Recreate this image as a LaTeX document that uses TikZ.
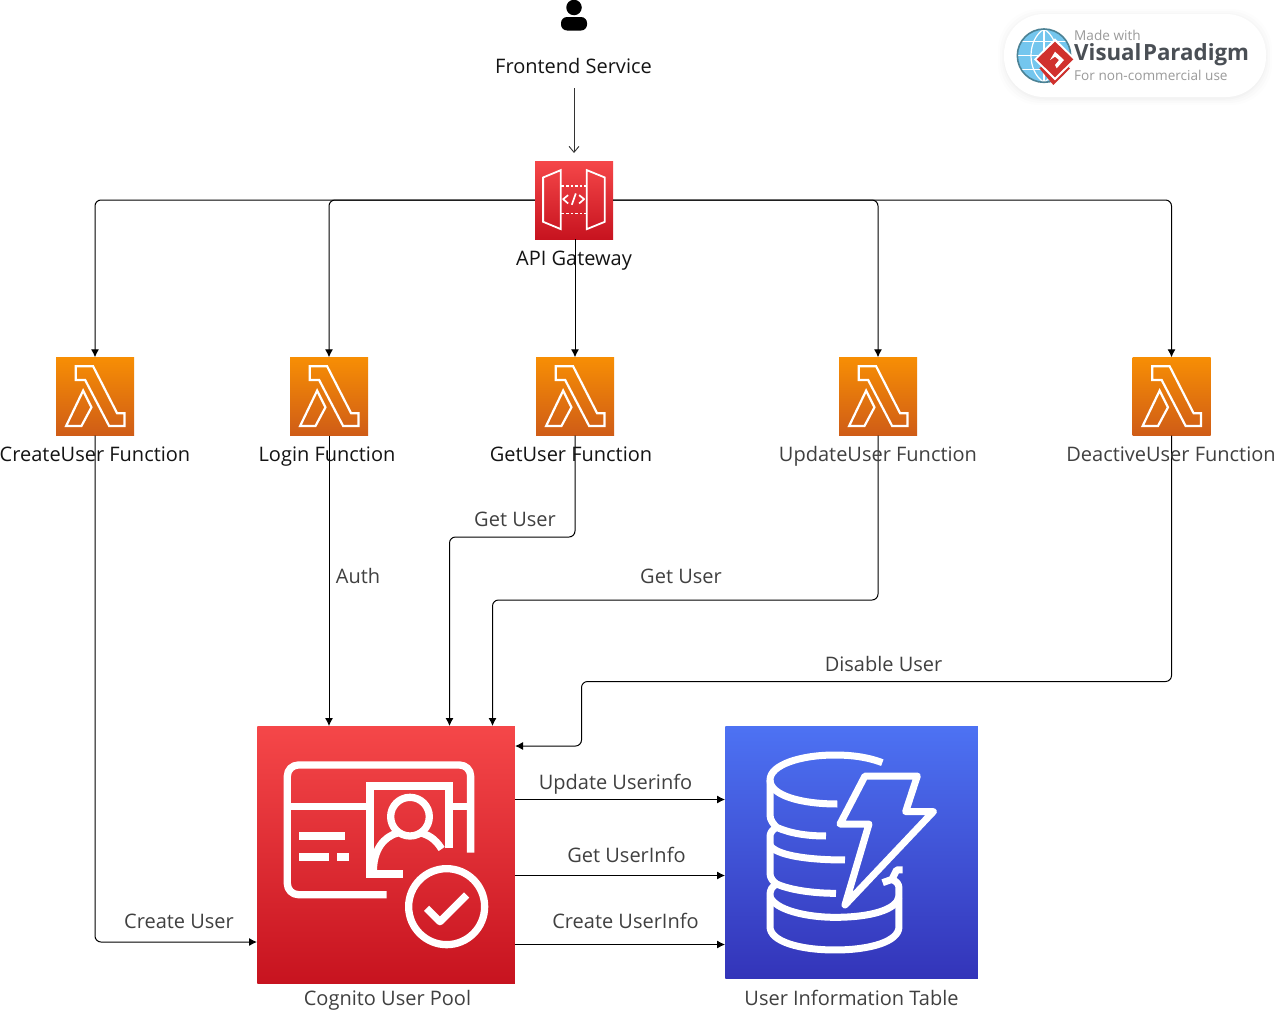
\documentclass[tikz,border=0pt]{standalone}
\usepackage{fontspec}
\setmainfont{Open Sans}
\usetikzlibrary{arrows.meta,calc}
\definecolor{awsredT}{HTML}{F54749}
\definecolor{awsredB}{HTML}{C7131F}
\definecolor{awsorT}{HTML}{F78E04}
\definecolor{awsorB}{HTML}{CF5C17}
\definecolor{awsblT}{HTML}{4D72F3}
\definecolor{awsblB}{HTML}{3334B9}
\definecolor{vpgrey}{HTML}{9A9A9A}
\definecolor{vpdark}{HTML}{4A4F55}
\definecolor{vpred}{HTML}{D0312D}
\definecolor{vpblue}{HTML}{74C6EE}
\definecolor{vpring}{HTML}{4C8295}
\tikzset{
  x=1pt,y=-1pt,
  lambdabox/.style={rectangle,inner sep=0pt,minimum size=78,top color=awsorT,bottom color=awsorB,draw=none},
  gatebox/.style={rectangle,inner sep=0pt,minimum size=78,top color=awsredT,bottom color=awsredB,draw=none},
  poolbox/.style={rectangle,inner sep=0pt,minimum size=257.5,top color=awsredT,bottom color=awsredB,draw=none},
  tablebox/.style={rectangle,inner sep=0pt,minimum size=252.5,top color=awsblT,bottom color=awsblB,draw=none},
  lbl/.style={inner sep=0pt,text height=17pt,text depth=3pt,font=\fontsize{20}{24}\selectfont,text=black!92},
  elbl/.style={inner sep=0pt,text height=17pt,text depth=3pt,font=\fontsize{20}{24}\selectfont,text=black!75},
  conn/.style={draw=black,line width=1pt,rounded corners=6pt,-{Latex[length=8pt,width=8pt]}},
  glyph/.style={draw=white,line cap=butt,line join=round,x=0.3333pt,y=-0.3333pt},
  pics/lambdaglyph/.style={code={
    \draw[glyph,line width=2.2pt,line join=miter]
      (60,27)--(112,27)--(184,168)--(206,168)--(206,206)--(160,206)--(88,68)--(60,68)--cycle;
    \draw[glyph,line width=2.2pt,line join=miter]
      (82,100)--(107,150)--(77,206)--(31,206)--cycle;
  }},
  pics/gateglyph/.style={code={
    \draw[glyph,line width=1.8pt,line join=miter] (25,50)--(78,28)--(78,205)--(25,183)--cycle;
    \draw[glyph,line width=1.8pt,line join=miter] (156,28)--(210,50)--(210,183)--(156,205)--cycle;
    \draw[glyph,line width=1.6pt,dash pattern=on 2.6pt off 2pt] (80,75)--(156,75);
    \draw[glyph,line width=1.6pt,dash pattern=on 2.6pt off 2pt] (80,158)--(156,158);
    \draw[glyph,line width=1.7pt] (100,103)--(85,115)--(100,128);
    \draw[glyph,line width=1.7pt] (133,103)--(148,115)--(133,128);
    \draw[glyph,line width=1.7pt] (123,98)--(111,132);
  }}
}
\begin{document}
\begin{tikzpicture}
\useasboundingbox (0,0) rectangle (1279,1012);
\fill[white] (0,0) rectangle (1279,1012);

% boxes
\node[gatebox] (gw) at (574,200) {};
\node[lambdabox] (cu) at (95,396.5) {};
\node[lambdabox] (lg) at (329,396.5) {};
\node[lambdabox] (gu) at (575,396.5) {};
\node[lambdabox] (uu) at (878,396.5) {};
\node[lambdabox] (du) at (1171.5,396.5) {};
\node[poolbox] (pool) at (386,855) {};
\node[tablebox] (table) at (851.5,852.5) {};

% text that carries connectors
\node[lbl] (fs) at (573.5,66) {Frontend Service};
\coordinate (fsout) at (574,88);
\coordinate (gwin) at (574,153);

% connectors
\draw[draw=black!80,line width=0.9pt,-{Straight Barb[length=6pt,width=10pt,line width=0.9pt]}] (fsout) -- (gwin);
\draw[conn] (gw.west) -| (cu.north);
\draw[conn] (gw.west) -| (lg.north);
\draw[conn] (gu.north |- gw.south) -- (gu.north);
\draw[conn] (gw.east) -| (uu.north);
\draw[conn] (gw.east) -| (du.north);

\coordinate (pcu) at (257,942);
\coordinate (pgu) at (449.5,726);
\coordinate (puu) at (492.5,726);
\coordinate (pdu) at (515,746);
\draw[conn] (cu.south) |- (pcu);
\draw[conn] (lg.south) -- (lg.south |- pool.north);
\draw[conn] (gu.south) |- ($(pgu)+(0,-189)$) -- (pgu);
\draw[conn] (uu.south) |- ($(puu)+(0,-126)$) -- (puu);
\draw[conn] (du.south) |- (581.5,681.5) |- (pdu);

\coordinate (a1) at (515,799.5);
\coordinate (a2) at (515,875.5);
\coordinate (a3) at (515,944.5);
\draw[conn] (a1) -- (table.west |- a1);
\draw[conn] (a2) -- (table.west |- a2);
\draw[conn] (a3) -- (table.west |- a3);

% glyphs
\pic at (gw.north west) {gateglyph};
\pic at (cu.north west) {lambdaglyph};
\pic at (lg.north west) {lambdaglyph};
\pic at (gu.north west) {lambdaglyph};
\pic at (uu.north west) {lambdaglyph};
\pic at (du.north west) {lambdaglyph};

% Cognito glyph
\begin{scope}[shift={(250,720)}]
\draw[glyph,line width=7.3pt,rounded corners=11pt] (410,524)--(112,524)--(112,135)--(662,135)--(662,398);
\draw[glyph,line width=7.3pt] (112,260)--(350,260) (610,260)--(662,260);
\draw[glyph,line width=7.3pt,line join=miter] (597,385)--(597,198)--(360,198)--(360,462)--(460,462);
\draw[glyph,line width=7.3pt] (480,290) circle[radius=58];
\draw[glyph,line width=7.3pt] (575,387) .. controls (555,355) and (535,345) .. (510,338);
\draw[glyph,line width=7.3pt] (445,338) .. controls (400,350) and (370,390) .. (370,455);
\draw[glyph,line width=8pt] (148,347)--(285,347) (148,410)--(237,410) (262,410)--(298,410);
\draw[glyph,line width=7.3pt] (590,560) circle[radius=114];
\draw[glyph,line width=7.3pt] (530,565)--(570,605)--(650,525);
\end{scope}

% DynamoDB glyph
\begin{scope}[shift={(720,720)}]
\draw[glyph,line width=7pt] (487,128) .. controls (440,110) and (390,105) .. (345,105) .. controls (240,105) and (150,135) .. (150,180) .. controls (150,225) and (240,252) .. (352,252);
\draw[glyph,line width=7pt] (150,180)--(150,285) .. controls (150,300) and (160,312) .. (170,322) .. controls (210,340) and (260,348) .. (318,348);
\draw[glyph,line width=7pt] (170,322) .. controls (155,330) and (150,340) .. (150,350) -- (150,460) .. controls (150,475) and (160,485) .. (170,492) .. controls (210,510) and (280,520) .. (348,520);
\draw[glyph,line width=7pt] (150,375) .. controls (165,405) and (260,420) .. (375,420);
\draw[glyph,line width=7pt] (170,492) .. controls (155,500) and (150,510) .. (150,525) -- (150,620) .. controls (150,665) and (240,690) .. (345,690) .. controls (450,690) and (537,665) .. (537,620) -- (537,505) .. controls (537,492) and (530,484) .. (515,478);
\draw[glyph,line width=7pt] (150,530) .. controls (165,570) and (260,592) .. (345,592) .. controls (450,592) and (530,570) .. (537,530);
\draw[glyph,line width=7pt] (548,450)--(530,450)--(516,478)--(488,488);
\fill[white] (198,277) circle[radius=16] (198,447) circle[radius=16] (198,617) circle[radius=16];
\draw[glyph,line width=7pt] (435,168)--(592,168)--(557,275)--(640,275)--(375,555)--(447,312)--(360,312)--cycle;
\end{scope}

% person
\node[circle,fill=black,inner sep=0pt,minimum size=15.5] (phead) at (574,7.5) {};
\fill[black,rounded corners=6pt] (561,30.5) -- (561,17) -- (587,17) -- (587,30.5) -- cycle;

% labels
\node[lbl] (gwl) at (574,258) {API Gateway};
\node[lbl] (cul) at (95,454) {CreateUser Function};
\node[lbl] (lgl) at (327,454) {Login Function};
\node[lbl] (gul) at (571,454) {GetUser Function};
\node[elbl] (uul) at (878,454) {UpdateUser Function};
\node[elbl] (dul) at (1171,454) {DeactiveUser Function};
\node[elbl] (e1) at (515,519) {Get User};
\node[elbl] (e2) at (358,576) {Auth};
\node[elbl] (e3) at (681,576) {Get User};
\node[elbl] (e4) at (883.5,664) {Disable User};
\node[elbl] (e5) at (615.5,782) {Update Userinfo};
\node[elbl] (e6) at (626.5,855) {Get UserInfo};
\node[elbl] (e7) at (625.5,921) {Create UserInfo};
\node[elbl] (e8) at (179,921) {Create User};
\node[elbl] (pooll) at (387.5,998) {Cognito User Pool};
\node[elbl] (tablel) at (851.5,998) {User Information Table};

% watermark
\foreach \g/\o in {7/0.008,5/0.01,3/0.012,1.5/0.015}{
  \fill[black,opacity=\o,rounded corners=41pt] (1005-\g,15-\g+1) rectangle (1265+\g,97+\g+1);
}
\fill[white,rounded corners=40pt] (1004,14) rectangle (1266,97);
\begin{scope}[shift={(990,0)}]
\begin{scope}[x=0.3333pt,y=-0.3333pt]
\fill[vpblue] (162,167) circle[radius=80];
\draw[white,line width=1.2pt] (162,87)--(162,247) (82,167)--(242,167) (95,125)--(229,125) (95,209)--(229,209);
\draw[white,line width=1.2pt] (162,87) .. controls (110,120) and (110,214) .. (162,247);
\draw[white,line width=1.2pt] (162,87) .. controls (214,120) and (214,214) .. (162,247);
\draw[vpring,line width=1.6pt] (162,167) circle[radius=80];
\fill[vpred] (148,205)--(190,255)--(240,205)--(225,195)--(190,230)--(160,195)--cycle;
\fill[white] (195,115)--(258,178)--(195,241)--(132,178)--cycle;
\fill[vpred] (195,125)--(250,178)--(195,232)--(140,178)--cycle;
\fill[white] (195,155)--(222,180)--(200,205)--(195,195)--(207,180)--(195,170)--(180,180)--cycle;
\end{scope}
\end{scope}
\node[anchor=west,inner sep=0pt,text=vpgrey,font=\fontsize{13.6}{15}\selectfont] (vp1) at (1074,35.5) {Made with};
\node[anchor=west,inner sep=0pt,text=vpdark,font=\fontsize{22.3}{28}\bfseries\selectfont] (vp2) at (1074,55) {Visual\kern1.5pt Paradigm};
\node[anchor=west,inner sep=0pt,text=vpgrey,font=\fontsize{13.6}{15}\selectfont] (vp3) at (1074,75) {For non-commercial use};
\end{tikzpicture}
\end{document}
